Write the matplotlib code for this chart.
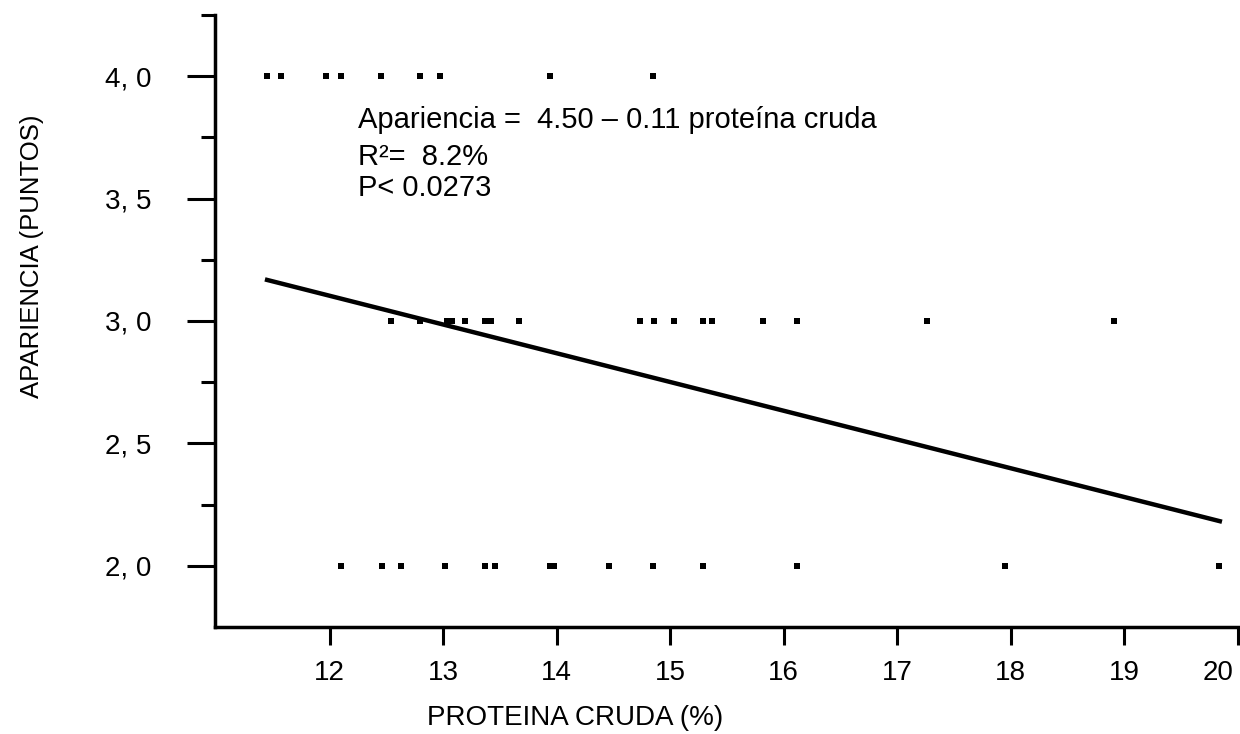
import matplotlib
matplotlib.use('Agg')
import matplotlib.pyplot as plt
import matplotlib.transforms as mtransforms
import numpy as np
from matplotlib.ticker import FixedLocator

plt.rcParams['font.family'] = ['Liberation Sans', 'DejaVu Sans']

# observed points, grouped by score
prot_4 = [11.45, 11.57, 11.97, 12.10, 12.45, 12.80, 12.97, 13.94, 14.85]
prot_3 = [12.54, 12.80, 13.03, 13.08, 13.19, 13.37, 13.42, 13.67, 14.73, 14.86,
          15.03, 15.29, 15.37, 15.82, 16.12, 17.26, 18.91]
prot_2 = [12.10, 12.46, 12.63, 13.02, 13.37, 13.46, 13.94, 13.98, 14.46, 14.85,
          15.29, 16.12, 17.95, 19.83]

# fitted line
fit_x = [11.43, 19.86]
fit_y = [3.17, 2.18]

x_ticks = [12, 13, 14, 15, 16, 17, 18, 19, 20]
y_major = [2.0, 2.5, 3.0, 3.5, 4.0]
y_minor = [2.25, 2.75, 3.25, 3.75, 4.25]
y_labels = ['2, 0', '2, 5', '3, 0', '3, 5', '4, 0']

x_all = prot_4 + prot_3 + prot_2
y_all = [4.0] * len(prot_4) + [3.0] * len(prot_3) + [2.0] * len(prot_2)

fig = plt.figure(figsize=(12.4, 7.34), dpi=100)
ax = fig.add_axes([215 / 1240, 1 - 627 / 734, 1024 / 1240, 612 / 734])

ax.plot(x_all, y_all, linestyle='none', marker='s', markersize=3.9,
        color='black', markeredgewidth=0)
ax.plot(fit_x, fit_y, color='black', linewidth=3.2, solid_capstyle='butt')

ax.set_xlim(10.99, 20.01)
ax.set_ylim(1.75, 4.25)

for s in ['top', 'right']:
    ax.spines[s].set_visible(False)
for s in ['left', 'bottom']:
    ax.spines[s].set_linewidth(2.5)

ax.set_xticks(x_ticks)
ax.set_xticklabels([str(t) for t in x_ticks])
ax.set_yticks(y_major)
ax.set_yticklabels(y_labels)
ax.yaxis.set_minor_locator(FixedLocator(y_minor))

ax.tick_params(axis='x', direction='out', length=13, width=2.2, pad=11,
               labelsize=20)
ax.tick_params(axis='y', which='major', direction='out', length=20, width=2.2,
               pad=26, labelsize=20)
ax.tick_params(axis='y', which='minor', direction='out', length=10, width=2.2)

# last x label sits a bit left so it stays inside the figure
last = ax.get_xticklabels()[-1]
last.set_transform(last.get_transform() +
                   mtransforms.ScaledTranslation(-0.2, 0, fig.dpi_scale_trans))

ax.set_xlabel('PROTEINA CRUDA (%)', fontsize=20)
ax.xaxis.set_label_coords(0.352, -0.127)
ax.set_ylabel('APARIENCIA (PUNTOS)', fontsize=18.5)
ax.yaxis.set_label_coords(-0.167, 0.605)

ax.text(12.25, 3.821, 'Apariencia =  4.50 \u2013 0.11 prote\u00edna cruda',
        fontsize=21, va='center', ha='left')
ax.text(12.25, 3.670, 'R\u00b2=  8.2%', fontsize=21, va='center', ha='left')
ax.text(12.25, 3.543, 'P< 0.0273', fontsize=21, va='center', ha='left')

fig.savefig('out.png', dpi=100)
